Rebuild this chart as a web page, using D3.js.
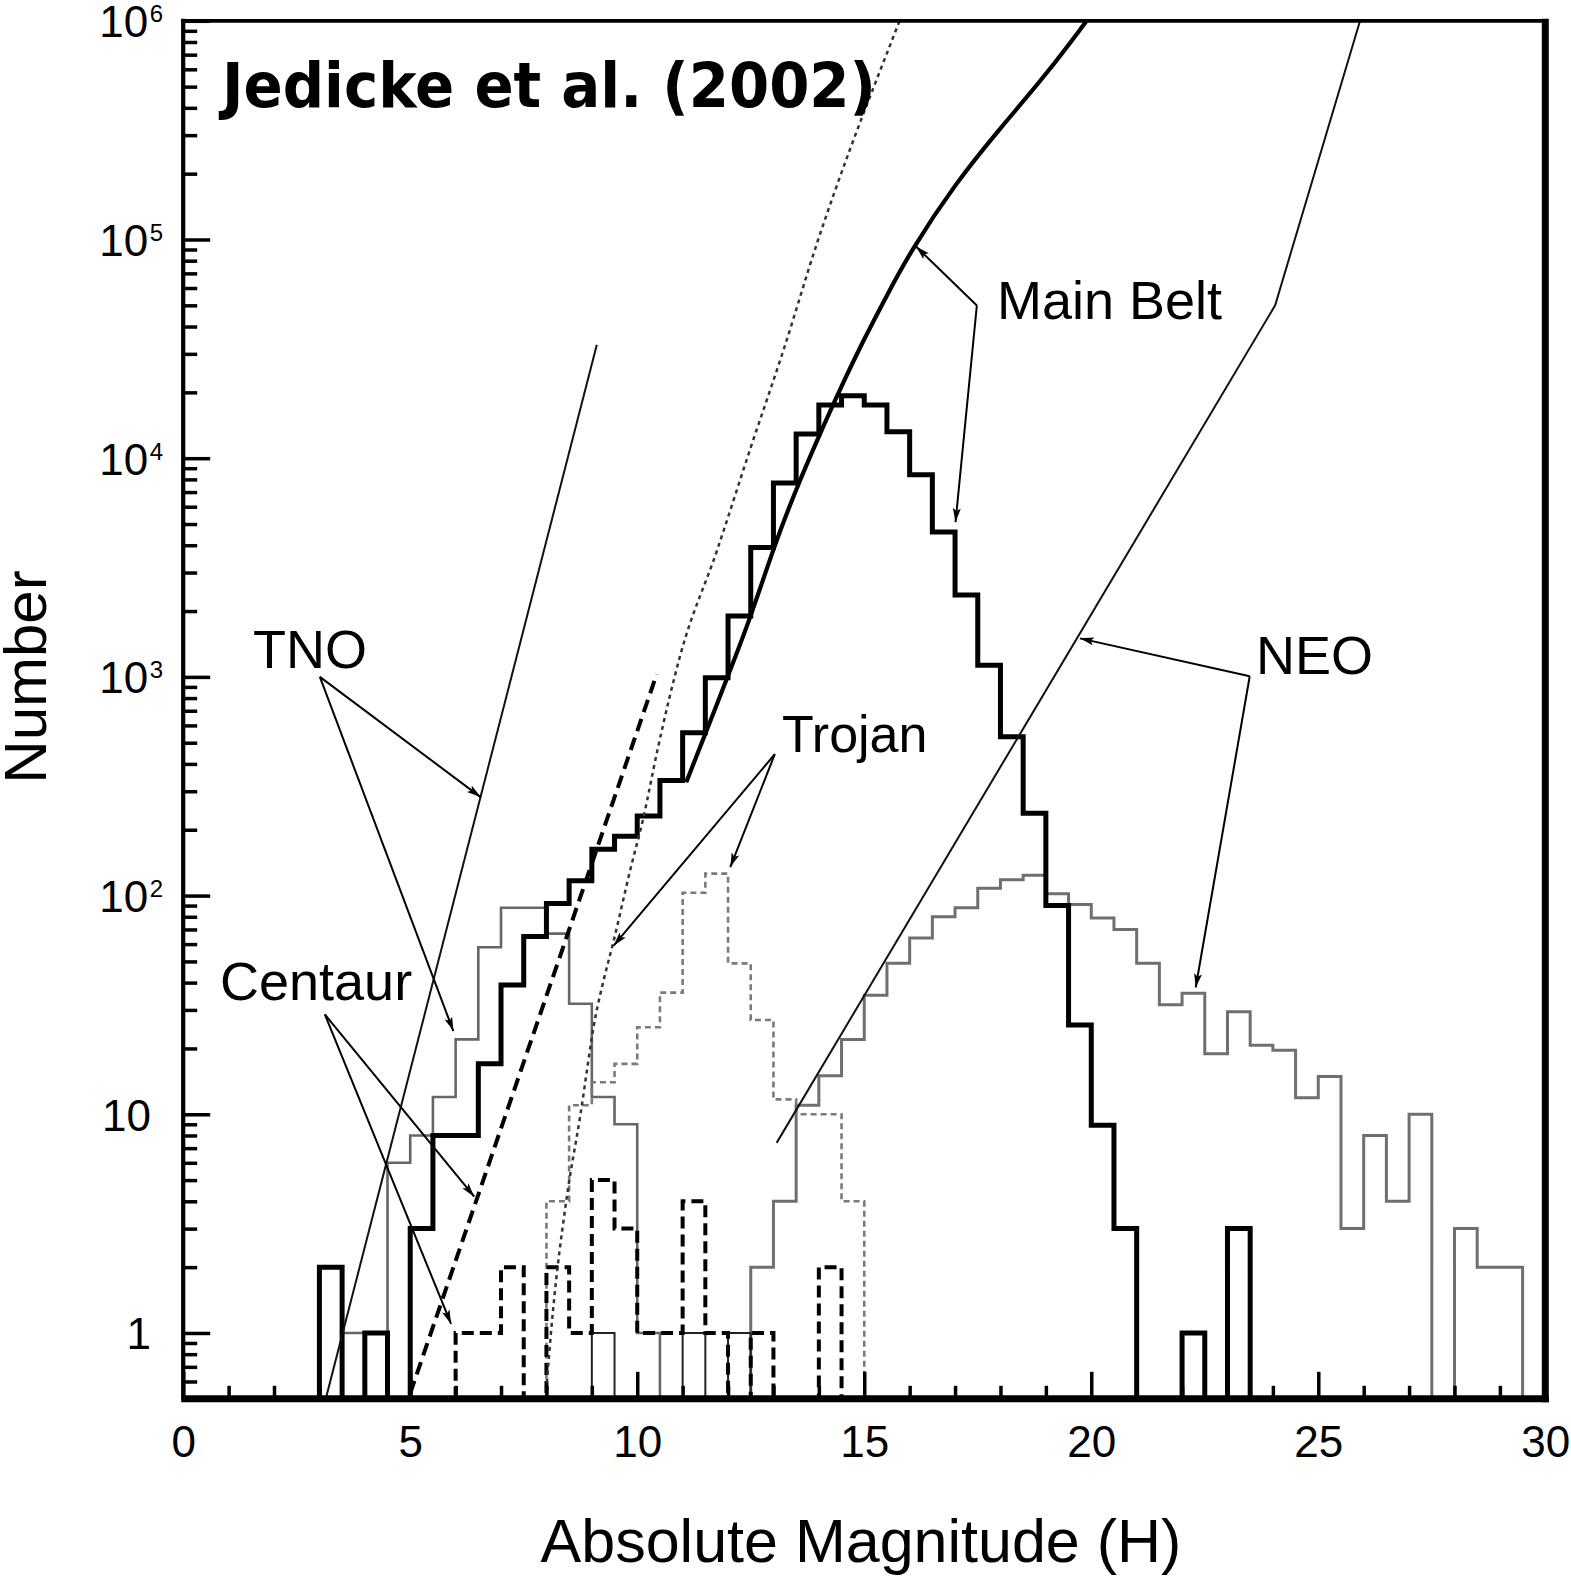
<!DOCTYPE html>
<html>
<head>
<meta charset="utf-8">
<script src="https://cdn.jsdelivr.net/npm/d3@7"></script>
<style>
  body { margin: 0; background: #fff; }
  svg { display: block; }
</style>
</head>
<body>
<script>
// numbers of known objects vs absolute magnitude, read off the Jedicke et al. (2002) figure
// histograms use 0.5 mag bins; each series = first bin edge + counts

var binWidth = 0.5;

var mbStart = 3.0;
var mbCounts = [2, 0, 1, 0, 3, 8, 8, 17, 39, 65, 92, 117, 163, 187, 231, 336, 555, 990, 1900, 3900,
  7700, 12900, 17500, 19300, 17500, 13200, 8400, 4600, 2370, 1130, 533, 238, 90, 25.6, 8.9, 3,
  0, 0, 1, 0, 3];

var neoStart = 12.5;
var neoCounts = [2, 4, 11, 15, 22, 35, 49, 64, 80, 88, 108, 118, 124, 102, 91, 79, 70, 49, 31.7, 35.8,
  18.9, 29.4, 20.7, 19.6, 11.9, 14.9, 3, 8, 4, 10, 0, 3, 2, 2];

var tnoStart = 3.5;
var tnoCounts = [1, 1, 6, 8, 12, 22, 58, 88, 88, 67, 32, 12, 9, 1];

var trojanStart = 8.0;
var trojanCounts = [4, 11, 14, 17, 25, 36, 103, 126, 49, 27, 11.7, 10, 10, 4];

var centaurStart = 6.0;
var centaurCounts = [1, 1, 2, 0, 2, 1, 5, 3, 1, 1, 4, 1, 0, 1, 0, 0, 2];

// small unlabelled thin bars at N = 1
var otherStart = 9.0;
var otherCounts = [1, 0, 0, 0, 1, 0, 1];

// model / fit curves as [H, N]
var mbCurve = [[11.08, 330], [12.0, 1010], [12.5, 1875], [13.0, 3890], [13.5, 7240], [14.0, 12600],
  [14.5, 21400], [15.0, 35200], [15.5, 55600], [16.0, 87000], [17.0, 180000], [18.0, 324000],
  [19.0, 565000], [19.9, 1000000]];
var neoLine = [[13.07, 7.4], [24.05, 50000], [25.92, 1000000]];
var tnoLine = [[3.14, 0.5], [9.11, 33000]];
var centaurLine = [[5.0, 0.53], [10.43, 1030]];
var trojanLine = [[7.98, 0.5], [8.15, 1.3], [8.42, 3.8], [8.75, 10], [9.08, 28], [9.26, 41], [9.48, 62],
  [9.85, 132], [10.14, 229], [10.44, 457], [10.95, 1260], [11.76, 3800], [12.5, 11200],
  [13.23, 31600], [13.97, 97700], [14.7, 263000], [15.29, 550000], [15.78, 1000000]];

// annotation arrows: first point is where the lines meet, the rest are arrow tips
var tnoArrows = [[3.01, 1000], [6.55, 282], [5.95, 24]];
var centaurArrows = [[3.12, 28.6], [6.41, 4.2], [5.9, 1.1]];
var trojanArrows = [[13.03, 443], [9.48, 59], [12.05, 135]];
var mbArrows = [[17.48, 49900], [16.14, 92900], [17.01, 5100]];
var neoArrows = [[23.49, 1007], [19.75, 1500], [22.3, 38]];

var xTicksMajor = [0, 5, 10, 15, 20, 25, 30];
var yTicksMajor = [1, 10, 100, 1000, 10000, 100000, 1000000];

var width = 1571;
var height = 1582;

var svg = d3.select("body").append("svg")
  .attr("width", width)
  .attr("height", height);

var x = d3.scaleLinear().domain([0, 30]).range([183.2, 1545.3]);
var y = d3.scaleLog().domain([0.5, 1e6]).range([1398.8, 20.8]);

var plotLeft = x.range()[0], plotRight = x.range()[1];
var plotTop = y.range()[1], plotBottom = y.range()[0];

var defs = svg.append("defs");
defs.append("clipPath").attr("id", "plot")
  .append("rect")
  .attr("x", plotLeft).attr("y", plotTop)
  .attr("width", plotRight - plotLeft).attr("height", plotBottom - plotTop);

defs.append("marker")
  .attr("id", "head")
  .attr("markerUnits", "userSpaceOnUse")
  .attr("markerWidth", 16).attr("markerHeight", 10)
  .attr("refX", 14).attr("refY", 4)
  .attr("orient", "auto")
  .append("path")
  .attr("d", "M0,0 L14,4 L0,8 L3,4 Z")
  .attr("fill", "#000");

function histPath(start, counts) {
  var pts = [[start, 0]];
  counts.forEach(function(c, i) {
    pts.push([start + i * binWidth, c]);
    pts.push([start + (i + 1) * binWidth, c]);
  });
  pts.push([start + counts.length * binWidth, 0]);
  return d3.line()
    .x(function(d) { return x(d[0]); })
    .y(function(d) { return d[1] > 0 ? y(d[1]) : plotBottom; })(pts);
}

var plot = svg.append("g").attr("clip-path", "url(#plot)");

// histograms
plot.append("path").attr("d", histPath(neoStart, neoCounts))
  .attr("fill", "none").attr("stroke", "#6f6f6f").attr("stroke-width", 3);
plot.append("path").attr("d", histPath(tnoStart, tnoCounts))
  .attr("fill", "none").attr("stroke", "#666").attr("stroke-width", 2.6);
plot.append("path").attr("d", histPath(trojanStart, trojanCounts))
  .attr("fill", "none").attr("stroke", "#7a7a7a").attr("stroke-width", 2.6)
  .attr("stroke-dasharray", "6,4");
plot.append("path").attr("d", histPath(otherStart, otherCounts))
  .attr("fill", "none").attr("stroke", "#222").attr("stroke-width", 2);
plot.append("path").attr("d", histPath(centaurStart, centaurCounts))
  .attr("fill", "none").attr("stroke", "#000").attr("stroke-width", 4)
  .attr("stroke-dasharray", "12,6");
plot.append("path").attr("d", histPath(mbStart, mbCounts))
  .attr("fill", "none").attr("stroke", "#000").attr("stroke-width", 5)
  .attr("stroke-linejoin", "miter");

// fit lines
var line = d3.line()
  .x(function(d) { return x(d[0]); })
  .y(function(d) { return y(d[1]); });

plot.append("path").attr("d", line(tnoLine))
  .attr("fill", "none").attr("stroke", "#111").attr("stroke-width", 2);
plot.append("path").attr("d", line(centaurLine))
  .attr("fill", "none").attr("stroke", "#000").attr("stroke-width", 4)
  .attr("stroke-dasharray", "13,7");
plot.append("path").attr("d", line.curve(d3.curveMonotoneX)(trojanLine))
  .attr("fill", "none").attr("stroke", "#333").attr("stroke-width", 2.5)
  .attr("stroke-dasharray", "4,4");
plot.append("path").attr("d", line.curve(d3.curveBasis)(mbCurve))
  .attr("fill", "none").attr("stroke", "#000").attr("stroke-width", 4.2);
plot.append("path").attr("d", line.curve(d3.curveLinear)(neoLine))
  .attr("fill", "none").attr("stroke", "#111").attr("stroke-width", 2);

// annotation arrows
[tnoArrows, centaurArrows, trojanArrows, mbArrows, neoArrows].forEach(function(a) {
  a.slice(1).forEach(function(tip) {
    svg.append("line")
      .attr("x1", x(a[0][0])).attr("y1", y(a[0][1]))
      .attr("x2", x(tip[0])).attr("y2", y(tip[1]))
      .attr("stroke", "#000").attr("stroke-width", 2)
      .attr("marker-end", "url(#head)");
  });
});

// axes: ticks point inward
var yMinor = [];
d3.range(-1, 6).forEach(function(k) {
  d3.range(2, 10).forEach(function(m) {
    var v = m * Math.pow(10, k);
    if (v > 0.5 && v < 1e6) yMinor.push(v);
  });
});
var xMinor = d3.range(1, 30).filter(function(v) { return v % 5 !== 0; });

var yMinorG = svg.append("g").attr("transform", "translate(" + plotLeft + ",0)")
  .call(d3.axisLeft(y).tickValues(yMinor).tickSize(-14).tickFormat(""));
var yMajorG = svg.append("g").attr("transform", "translate(" + plotLeft + ",0)")
  .call(d3.axisLeft(y).tickValues(yTicksMajor).tickSize(-27).tickPadding(0));
var xMinorG = svg.append("g").attr("transform", "translate(0," + plotBottom + ")")
  .call(d3.axisBottom(x).tickValues(xMinor).tickSize(-13).tickFormat(""));
var xMajorG = svg.append("g").attr("transform", "translate(0," + plotBottom + ")")
  .call(d3.axisBottom(x).tickValues(xTicksMajor).tickSize(-27).tickPadding(27).tickFormat(d3.format("d")));

svg.selectAll(".domain").remove();
svg.selectAll(".tick line").attr("stroke", "#000").attr("stroke-width", 3.5);
svg.selectAll(".tick text")
  .attr("font-family", "'Liberation Sans', Arial, Helvetica, sans-serif")
  .attr("font-size", 44).attr("fill", "#000");

yMajorG.selectAll(".tick text").each(function(d) {
  var t = d3.select(this);
  var k = Math.round(Math.log10(d));
  t.text(null).attr("dy", null).attr("y", 16).attr("text-anchor", "end");
  if (k <= 1) {
    t.attr("x", 151 - plotLeft).text(k === 0 ? "1" : "10");
  } else {
    t.attr("x", 163 - plotLeft);
    t.append("tspan").text("10");
    t.append("tspan").attr("font-size", 24).attr("dx", 1.5).attr("dy", -15).text(k);
  }
});

// frame: left/top thin, right/bottom heavy
svg.append("line").attr("x1", plotLeft).attr("x2", plotLeft).attr("y1", plotTop - 2).attr("y2", plotBottom)
  .attr("stroke", "#000").attr("stroke-width", 4.2);
svg.append("line").attr("x1", plotLeft - 2).attr("x2", plotRight).attr("y1", plotTop).attr("y2", plotTop)
  .attr("stroke", "#000").attr("stroke-width", 3.8);
svg.append("line").attr("x1", plotRight).attr("x2", plotRight).attr("y1", plotTop - 2).attr("y2", plotBottom + 3.5)
  .attr("stroke", "#000").attr("stroke-width", 7);
svg.append("line").attr("x1", plotLeft - 2).attr("x2", plotRight + 3.5).attr("y1", plotBottom).attr("y2", plotBottom)
  .attr("stroke", "#000").attr("stroke-width", 7);

// text
var sans = "'Liberation Sans', Arial, Helvetica, sans-serif";

svg.append("text")
  .attr("x", 222).attr("y", 107)
  .attr("font-family", "'DejaVu Sans', Verdana, sans-serif")
  .attr("font-weight", "bold").attr("font-size", 62)
  .attr("textLength", 654).attr("lengthAdjust", "spacingAndGlyphs")
  .text("Jedicke et al. (2002)");

function label(txt, lx, ly, size) {
  svg.append("text").attr("x", lx).attr("y", ly)
    .attr("font-family", sans).attr("font-size", size || 54).attr("fill", "#000")
    .text(txt);
}
label("Main Belt", 997, 319);
label("NEO", 1256, 674);
label("TNO", 253, 668);
label("Trojan", 782, 752, 52);
label("Centaur", 220, 1000);

svg.append("text")
  .attr("x", 861).attr("y", 1562)
  .attr("text-anchor", "middle")
  .attr("font-family", sans).attr("font-size", 61)
  .text("Absolute Magnitude (H)");

svg.append("text")
  .attr("transform", "translate(46,677) rotate(-90)")
  .attr("text-anchor", "middle")
  .attr("font-family", sans).attr("font-size", 60)
  .text("Number");
</script>
</body>
</html>
